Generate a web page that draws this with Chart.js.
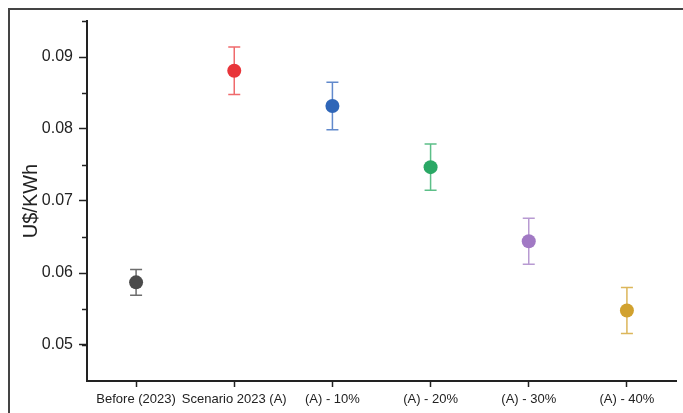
<!DOCTYPE html>
<html>
<head>
<meta charset="utf-8">
<script src="https://cdn.jsdelivr.net/npm/chart.js@4"></script>
<style>
  body { margin: 0; background: #fff; }
  #wrap { position: relative; width: 683px; height: 413px; }
  #frame { position: absolute; left: 8px; top: 8px; right: 0; bottom: 0;
           border-top: 2px solid #444; border-left: 2px solid #444; pointer-events: none; }
</style>
</head>
<body>
<div id="wrap">
  <canvas id="costChart"></canvas>
  <div id="frame"></div>
</div>
<script>
const categories = ["Before (2023)", "Scenario 2023 (A)", "(A) - 10%", "(A) - 20%", "(A) - 30%", "(A) - 40%"];
const costValues = [0.0587, 0.0881, 0.0832, 0.0747, 0.0644, 0.0548];
const costErrors = [0.0018, 0.0033, 0.0033, 0.0032, 0.0032, 0.0032];
const yTicks = [0.05, 0.06, 0.07, 0.08, 0.09];
const pointColors = ["#4b4b4b", "#e8353a", "#2f66b8", "#2aa865", "#a179c4", "#d1a12e"];
const barColors = ["#6d6d6d", "#ef6a6c", "#6189cc", "#5cbf88", "#b89ad2", "#dcb65a"];

const FONT = "'Liberation Sans', Arial, Helvetica, sans-serif";

// error bars + minor ticks, drawn from the scales
const errorBars = {
  id: "errorBars",
  beforeDatasetsDraw(chart) {
    const { ctx, scales: { x, y } } = chart;
    ctx.save();
    ctx.lineWidth = 1.5;
    costValues.forEach((v, i) => {
      const px = x.getPixelForValue(i);
      const top = y.getPixelForValue(v + costErrors[i]);
      const bot = y.getPixelForValue(v - costErrors[i]);
      ctx.strokeStyle = barColors[i];
      ctx.beginPath();
      ctx.moveTo(px, top); ctx.lineTo(px, bot);
      ctx.moveTo(px - 6, top); ctx.lineTo(px + 6, top);
      ctx.moveTo(px - 6, bot); ctx.lineTo(px + 6, bot);
      ctx.stroke();
    });
    ctx.restore();
  },
  afterDraw(chart) {
    const { ctx, scales: { y } } = chart;
    ctx.save();
    ctx.strokeStyle = "#222";
    ctx.lineWidth = 1.5;
    const minors = [y.min + 0.005];
    yTicks.forEach(t => minors.push(t + 0.005));
    minors.forEach(m => {
      if (m > y.max) return;
      const py = Math.round(y.getPixelForValue(m)) + 0.5;
      ctx.beginPath();
      ctx.moveTo(y.right - 5, py);
      ctx.lineTo(y.right, py);
      ctx.stroke();
    });
    ctx.restore();
  }
};

new Chart(document.getElementById("costChart"), {
  type: "line",
  data: {
    labels: categories,
    datasets: [{
      data: costValues,
      showLine: false,
      pointRadius: 7,
      pointHoverRadius: 7,
      pointBorderWidth: 0,
      pointBackgroundColor: pointColors,
      pointBorderColor: pointColors
    }]
  },
  options: {
    responsive: true,
    maintainAspectRatio: false,
    animation: false,
    layout: { padding: { top: 21, right: 5, left: 0, bottom: 0 } },
    plugins: { legend: { display: false }, tooltip: { enabled: false } },
    scales: {
      x: {
        offset: true,
        grid: { display: true, drawOnChartArea: false, drawTicks: true, tickLength: 6, tickWidth: 1.5, tickColor: "#222", offset: false },
        border: { display: true, color: "#222", width: 2 },
        ticks: { color: "#222", font: { family: FONT, size: 13 }, padding: 5, maxRotation: 0, autoSkip: false },
        afterFit(scale) { scale.height = 32; }
      },
      y: {
        min: 0.045,
        max: 0.095,
        afterBuildTicks(scale) { scale.ticks = yTicks.map(v => ({ value: v })); },
        grid: { display: true, drawOnChartArea: false, drawTicks: true, tickLength: 8, tickWidth: 1.5, tickColor: "#222" },
        border: { display: true, color: "#222", width: 2 },
        ticks: { color: "#222", font: { family: FONT, size: 16 }, padding: 6, callback: v => v.toFixed(2) },
        title: { display: true, text: "U$/KWh", color: "#222", font: { family: FONT, size: 20 }, padding: { top: 19, bottom: 0 } },
        afterFit(scale) { scale.width = 87; }
      }
    }
  },
  plugins: [errorBars]
});
</script>
</body>
</html>
